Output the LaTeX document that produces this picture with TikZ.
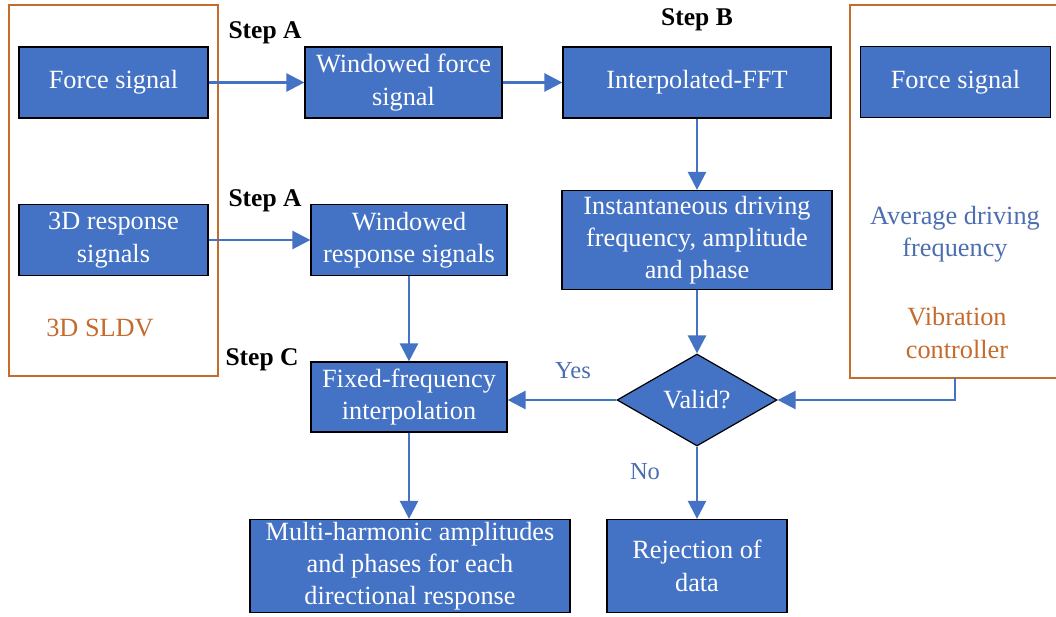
\documentclass[tikz,border=0pt]{standalone}
\usepackage{fontspec}
\setmainfont{Liberation Serif}
\usetikzlibrary{shapes.geometric,arrows.meta}
\definecolor{boxblue}{HTML}{4472C4}
\definecolor{lineblue}{HTML}{4472C4}
\definecolor{txtblue}{HTML}{4C6EB0}
\definecolor{frameorange}{HTML}{C56B2C}
\begin{document}
\begin{tikzpicture}[x=1pt,y=-1pt,
  stepbox/.style={draw=black,line width=1.2pt,fill=boxblue,text=white,align=center,inner sep=0pt,
    font=\fontsize{26.3}{32.3}\selectfont},
  arr/.style={draw=lineblue,line width=2.5pt,-{Triangle[length=18pt,width=18pt]}},
  frame/.style={draw=frameorange,line width=2.5pt},
  steplbl/.style={font=\fontsize{25.5}{30}\selectfont\bfseries,text=black,inner sep=0pt},
  bluelbl/.style={font=\fontsize{26.3}{32.3}\selectfont,text=txtblue,align=center,inner sep=0pt},
  orglbl/.style={font=\fontsize{26.3}{32.3}\selectfont,text=frameorange,align=center,inner sep=0pt}
]
\useasboundingbox (0,0) rectangle (1056,617);
% frames
\draw[frame] (9,5) rectangle (218,376);
\draw[frame] (1056,5) -- (850,5) -- (850,378) -- (1056,378);
% boxes
\node[stepbox,minimum width=189,minimum height=71] (fs1) at (113.5,82.5) {Force signal};
\node[stepbox,minimum width=197,minimum height=71] (wfs) at (403.5,82.5) {Windowed force\\signal};
\node[stepbox,minimum width=268,minimum height=71] (fft) at (697,82.5) {Interpolated-FFT};
\node[stepbox,minimum width=190,minimum height=71] (fs2) at (955.5,82) {Force signal};
\node[stepbox,minimum width=189,minimum height=71] (rs) at (113.5,240) {3D response\\signals};
\node[stepbox,minimum width=196,minimum height=71] (wrs) at (409,240) {Windowed\\response signals};
\node[stepbox,minimum width=270,minimum height=99] (inst) at (697,240) {Instantaneous driving\\frequency, amplitude\\and phase};
\node[stepbox,diamond,aspect=1.74,minimum width=160,minimum height=92] (valid) at (697,400) {Valid?};
\node[stepbox,minimum width=196,minimum height=70] (ffi) at (409,397) {Fixed-frequency\\interpolation};
\node[stepbox,minimum width=320,minimum height=93] (mh) at (410,566) {Multi-harmonic amplitudes\\and phases for each\\directional response};
\node[stepbox,minimum width=180,minimum height=93] (rej) at (697,566) {Rejection of\\data};
% labels
\node[steplbl] (sa1) at (265,33) {Step A};
\node[steplbl] (sb) at (697,20) {Step B};
\node[steplbl] (sa2) at (265,201) {Step A};
\node[steplbl] (sc) at (262,360) {Step C};
\node[orglbl] (sldv) at (100,328) {3D SLDV};
\node[bluelbl] (adf) at (955,234) {Average driving\\frequency};
\node[orglbl] (vc) at (957,333) {Vibration\\controller};
\node[bluelbl,font=\fontsize{24.5}{29}\selectfont] (yes) at (573,371) {Yes};
\node[bluelbl,font=\fontsize{24.5}{29}\selectfont] (no) at (645,472) {No};
\coordinate (vcb) at (955,378);
% connectors
\draw[arr] (fs1.east) -- (wfs.west);
\draw[arr] (wfs.east) -- (fft.west);
\draw[arr] (rs.east) -- (wrs.west);
\draw[arr] (fft.south) -- (inst.north);
\draw[arr] (inst.south) -- (valid.north);
\draw[arr] (wrs.south) -- (ffi.north);
\draw[arr] (valid.west) -- (valid.west -| ffi.east);
\draw[arr] (vcb) |- (valid.east);
\draw[arr] (ffi.south) -- (ffi.south |- mh.north);
\draw[arr] (valid.south) -- (rej.north);
\end{tikzpicture}
\end{document}
